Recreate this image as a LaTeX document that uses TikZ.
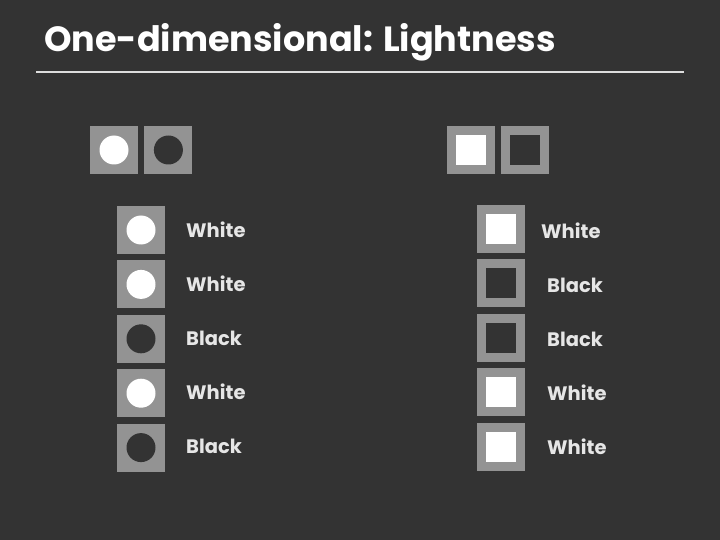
\documentclass[tikz,border=0pt]{standalone}
\usepackage{fontspec}
\setmainfont{Poppins}
\usetikzlibrary{positioning}
\definecolor{slide}{HTML}{333333}
\definecolor{tilegray}{HTML}{939393}
\definecolor{labelgray}{HTML}{E6E6E6}
\definecolor{rulegray}{HTML}{DDDDDD}
\tikzset {
  % grey backing square
  tile/.style = {
    fill = tilegray,
    rectangle,
    minimum size = 48pt,
    inner sep = 0
  },
  % round target, white or dark
  wdot/.style = {
    fill = white,
    circle,
    minimum size = 29pt,
    inner sep = 0
  },
  kdot/.style = {
    wdot,
    fill = slide
  },
  % square target, white or dark
  wbox/.style = {
    fill = white,
    rectangle,
    minimum size = 30pt,
    inner sep = 0
  },
  kbox/.style = {
    wbox,
    fill = slide
  },
  answer/.style = {
    text = labelgray,
    font = \fontsize{19.5}{22}\selectfont\bfseries,
    anchor = west,
    inner sep = 0
  },
  node distance = 6pt
}

\begin{document}
\begin{tikzpicture}[x=1pt,y=-1pt]
    \fill[slide] (0,0) rectangle (720,540);

    \node[anchor=base west, inner sep=0, text=white,
      font=\fontsize{35}{40}\selectfont\bfseries] (title) at (44,52)
      {One-dimensional: Lightness};
    \coordinate (ruleA) at (36,72);
    \coordinate (ruleB) at (684,72);
    \draw[rulegray, line width=1.6pt] (ruleA) -- (ruleB);

    % circles
    \node[tile] (ca) at (114,150) {};
    \node[tile] (cb) [right=of ca] {};
    \node[wdot] at (ca) {};
    \node[kdot] at (cb) {};

    \node[tile] (c1) at (141,230) {};
    \node[tile] (c2) [below=of c1] {};
    \node[tile] (c3) [below=of c2] {};
    \node[tile] (c4) [below=of c3] {};
    \node[tile] (c5) [below=of c4] {};
    \node[wdot] (d1) at (c1) {};
    \node[wdot] (d2) at (c2) {};
    \node[kdot] (d3) at (c3) {};
    \node[wdot] (d4) at (c4) {};
    \node[kdot] (d5) at (c5) {};

    \node[answer] (l1) at (186,230) {White};
    \node[answer] (l2) at (186,284) {White};
    \node[answer] (l3) at (186,338) {Black};
    \node[answer] (l4) at (186,392) {White};
    \node[answer] (l5) at (186,446) {Black};

    % squares
    \node[tile] (sa) at (471,150) {};
    \node[tile] (sb) [right=of sa] {};
    \node[wbox] at (sa) {};
    \node[kbox] at (sb) {};

    \node[tile] (s1) at (501,229) {};
    \node[tile] (s2) [below=of s1] {};
    \node[tile] (s3) [below=of s2] {};
    \node[tile] (s4) [below=of s3] {};
    \node[tile] (s5) [below=of s4] {};
    \node[wbox] (b1) at (s1) {};
    \node[kbox] (b2) at (s2) {};
    \node[kbox] (b3) at (s3) {};
    \node[wbox] (b4) at (s4) {};
    \node[wbox] (b5) at (s5) {};

    \node[answer] (r1) at (541,231) {White};
    \node[answer] (r2) at (547,285) {Black};
    \node[answer] (r3) at (547,339) {Black};
    \node[answer] (r4) at (547,393) {White};
    \node[answer] (r5) at (547,447) {White};
\end{tikzpicture}
\end{document}
